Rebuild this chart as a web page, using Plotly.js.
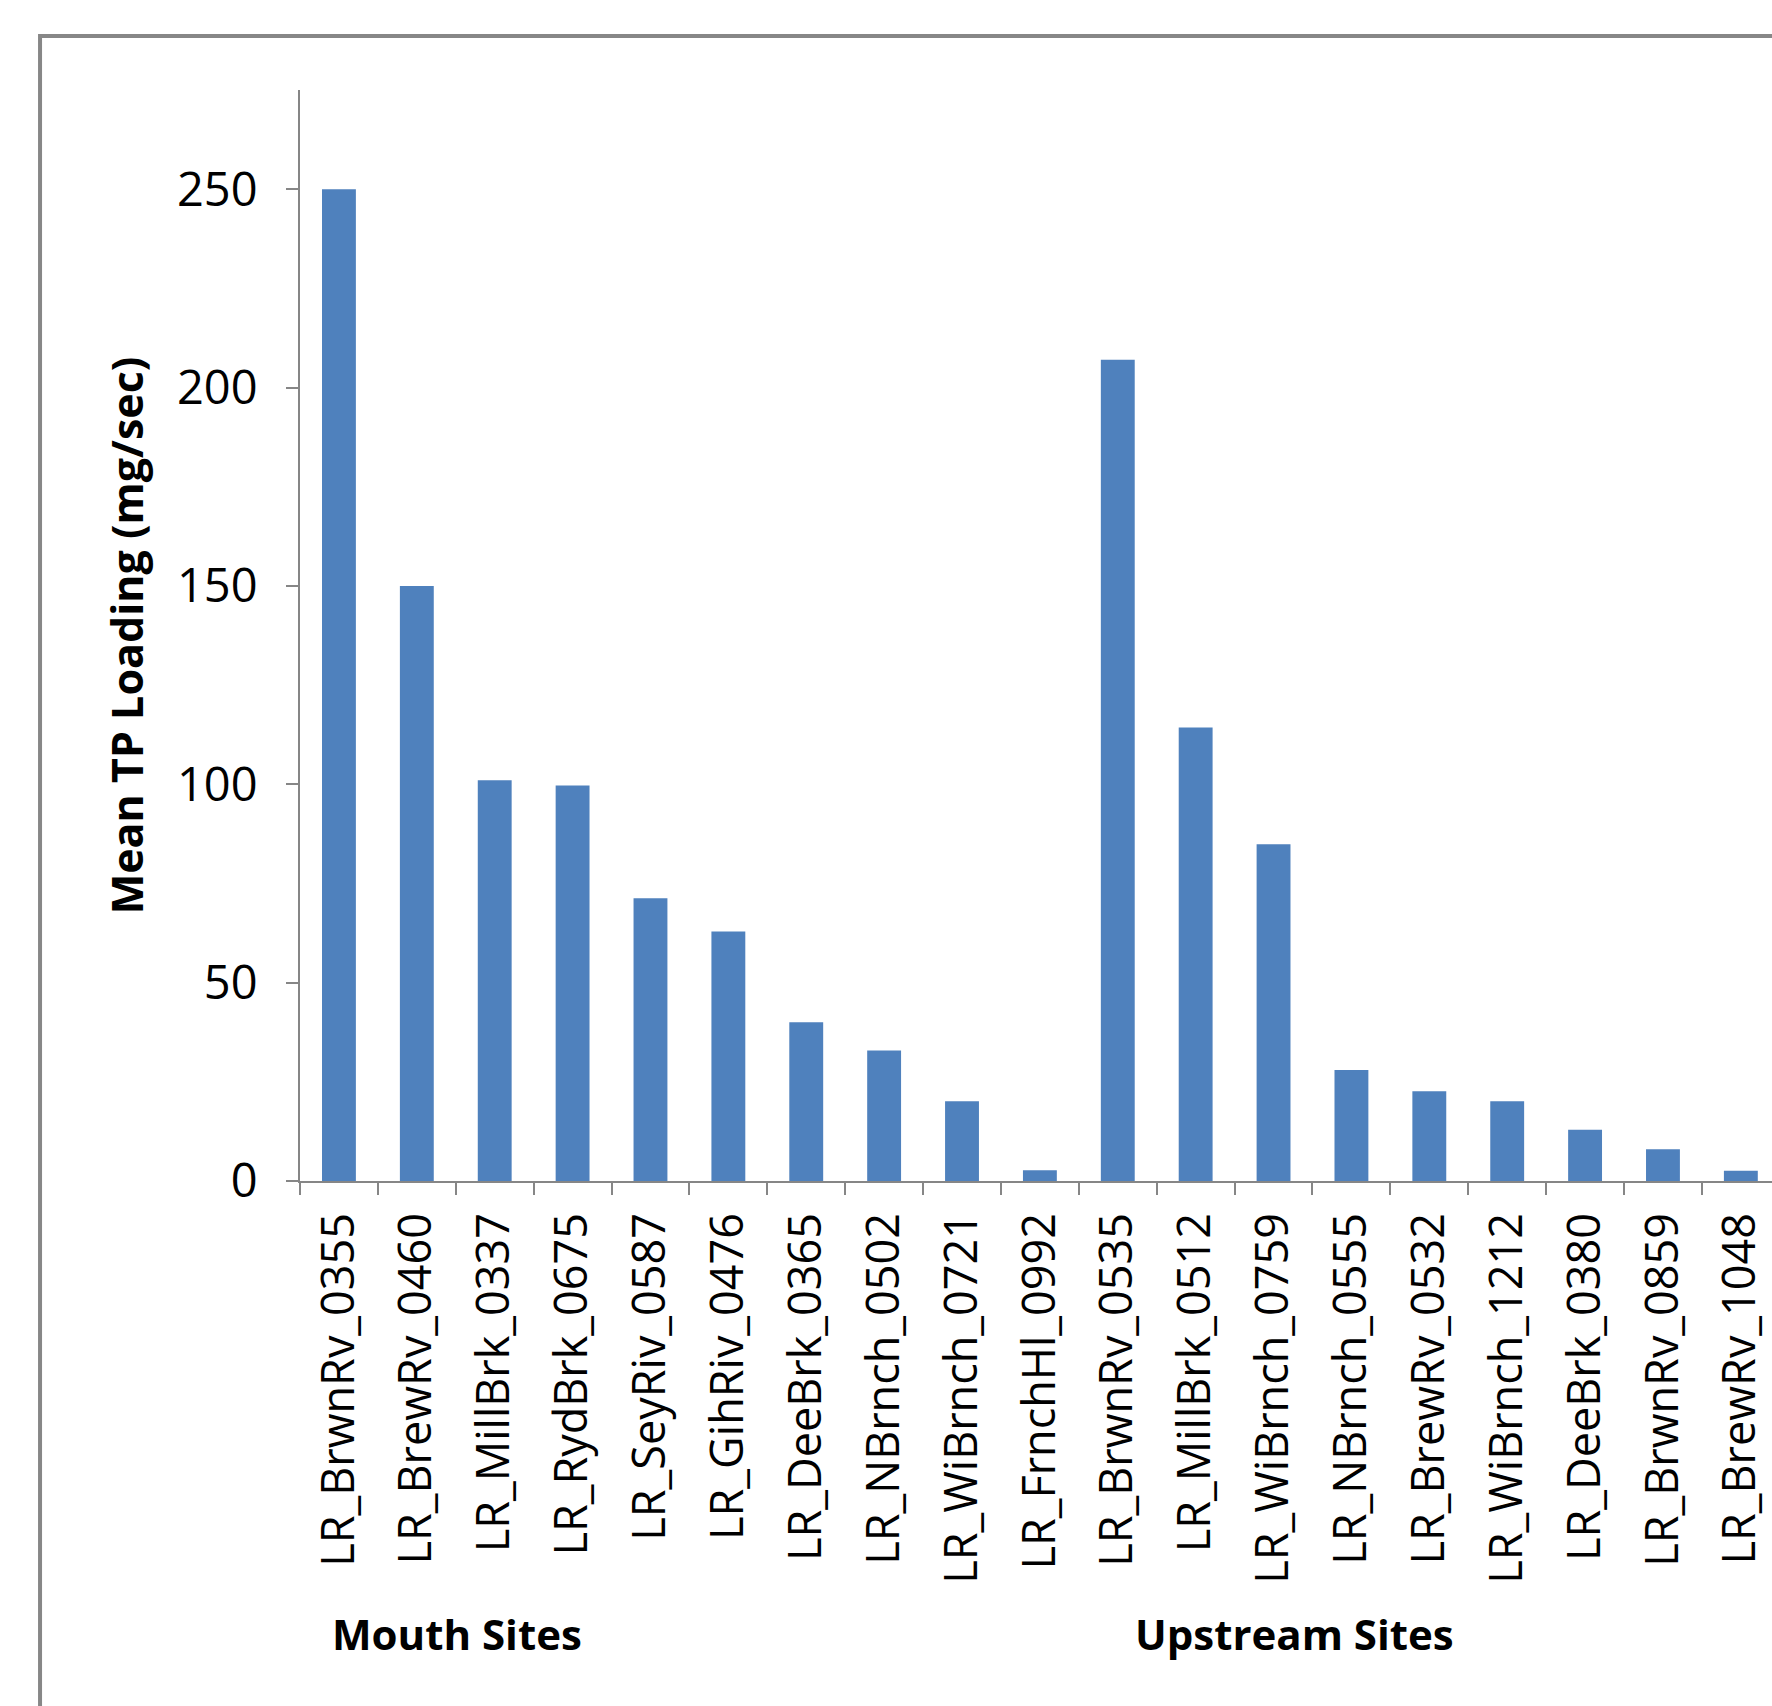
<!DOCTYPE html>
<html>
<head>
<meta charset="utf-8">
<script src="https://cdn.plot.ly/plotly-3.0.1.min.js"></script>
<style>
  html, body { margin: 0; padding: 0; background: #ffffff; }
  #chart { width: 1772px; height: 1706px; }
</style>
</head>
<body>
<div id="chart"></div>
<script>
const sites = [
  "LR_BrwnRv_0355", "LR_BrewRv_0460", "LR_MillBrk_0337", "LR_RydBrk_0675",
  "LR_SeyRiv_0587", "LR_GihRiv_0476", "LR_DeeBrk_0365", "LR_NBrnch_0502",
  "LR_WiBrnch_0721", "LR_FrnchHl_0992",
  "LR_BrwnRv_0535", "LR_MillBrk_0512", "LR_WiBrnch_0759", "LR_NBrnch_0555",
  "LR_BrewRv_0532", "LR_WiBrnch_1212", "LR_DeeBrk_0380", "LR_BrwnRv_0859",
  "LR_BrewRv_1048"
];
const meanTPLoading = [
  250, 150, 101, 99.7, 71.3, 62.9, 40.0, 32.9, 20.1, 2.7,
  207, 114.3, 84.9, 28.0, 22.6, 20.1, 12.9, 8.0, 2.6
];
const yTicks = [0, 50, 100, 150, 200, 250];
const groupLabels = ["Mouth Sites", "Upstream Sites"];
const groupStart = [-0.11, 10.2];

const fontFam = "'Open Sans', 'DejaVu Sans', sans-serif";
const axisGray = "#868686";

const trace = {
  type: "bar",
  x: sites,
  y: meanTPLoading,
  marker: { color: "#4F81BD", line: { width: 0 } },
  hoverinfo: "x+y"
};

const layout = {
  width: 1772,
  height: 1706,
  margin: { l: 299.5, r: 0, t: 90, b: 525, pad: 0 },
  paper_bgcolor: "#ffffff",
  plot_bgcolor: "#ffffff",
  showlegend: false,
  bargap: 0.565,
  font: { family: fontFam, color: "#000000" },
  xaxis: {
    type: "category",
    range: [-0.5, 18.4],
    showline: true,
    linecolor: axisGray,
    linewidth: 2,
    showgrid: false,
    zeroline: false,
    ticks: "outside",
    tickson: "boundaries",
    ticklen: 12,
    tickwidth: 2,
    tickcolor: axisGray,
    tickangle: -90,
    ticklabelstandoff: 12,
    tickfont: { family: fontFam, size: 45, color: "#000000" },
    automargin: false,
    fixedrange: true
  },
  yaxis: {
    range: [0, 275],
    tickvals: yTicks,
    ticktext: yTicks.map(String),
    showline: true,
    linecolor: axisGray,
    linewidth: 2,
    showgrid: false,
    zeroline: false,
    ticks: "outside",
    ticklen: 12,
    tickwidth: 2,
    tickcolor: axisGray,
    ticklabelstandoff: 19,
    tickfont: { family: fontFam, size: 47, color: "#000000" },
    title: {
      text: "Mean TP Loading (mg/sec)",
      font: { family: fontFam, size: 43, color: "#000000", weight: "bold" },
      standoff: 20
    },
    automargin: false,
    fixedrange: true
  },
  annotations: groupLabels.map((t, i) => ({
    text: "<b>" + t + "</b>",
    xref: "x",
    yref: "paper",
    x: groupStart[i],
    y: -0.415,
    xanchor: "left",
    yanchor: "middle",
    showarrow: false,
    font: { family: fontFam, size: 42, color: "#000000" }
  })),
  shapes: [{
    type: "rect",
    xref: "paper",
    yref: "paper",
    x0: -0.1766,
    x1: 1.2,
    y0: -1,
    y1: 1.0495,
    line: { color: "#878787", width: 4 },
    fillcolor: "rgba(0,0,0,0)",
    layer: "above"
  }]
};

Plotly.newPlot("chart", [trace], layout, { displayModeBar: false, staticPlot: true });
</script>
</body>
</html>
